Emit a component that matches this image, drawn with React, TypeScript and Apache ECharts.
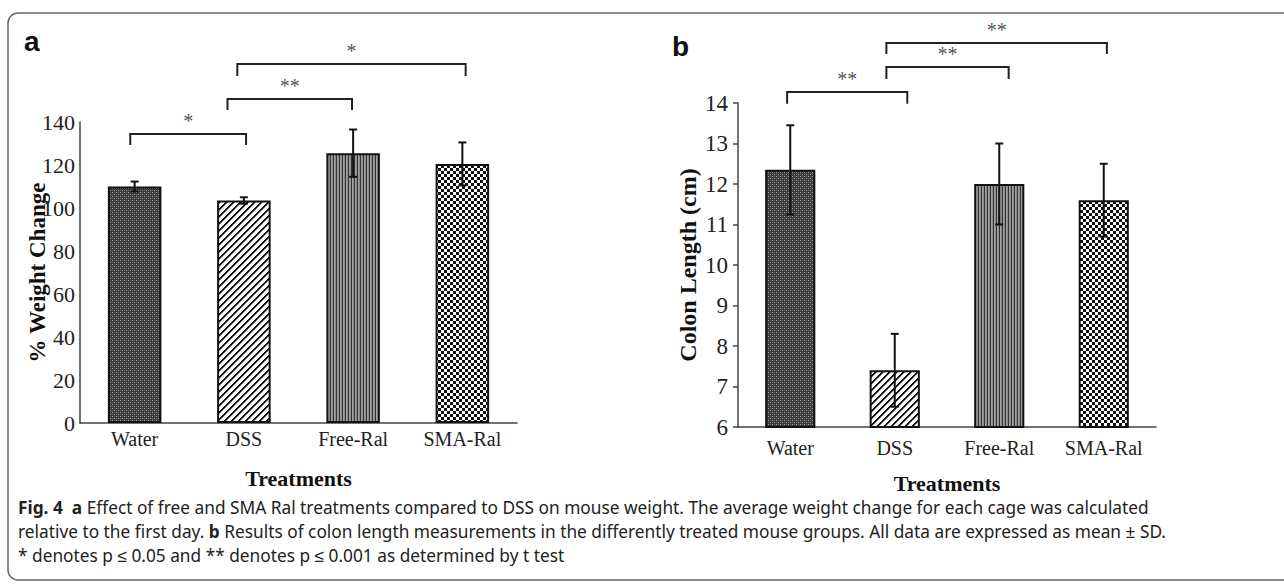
import React, { useEffect, useRef } from "react";
import * as echarts from "echarts";

const categories = ["Water", "DSS", "Free-Ral", "SMA-Ral"];
const weightMean = [110, 103.5, 125.5, 120.5];
const weightSD = [2.3, 1.5, 11, 10];
const colonMean = [12.35, 7.4, 12.0, 11.6];
const colonSD = [1.1, 0.9, 1.0, 0.9];

// brackets: [fromIdx, toIdx, fromShift, toShift, topValue, legValue]
const weightBrackets = [
  [0, 1, -0.04, 0.02, 134.4, 129.3],
  [1, 2, -0.15, -0.01, 150.7, 145.6],
  [1, 3, -0.06, 0.03, 167, 161.4],
];
const weightBracketLabels = ["*", "**", "*"];
const colonBrackets = [
  [0, 1, -0.03, 0.12, 14.27, 13.98],
  [1, 2, -0.08, 0.09, 14.89, 14.59],
  [1, 3, -0.08, 0.03, 15.48, 15.21],
];
const colonBracketLabels = ["**", "**", "**"];

const captionLines = [
  "{b|Fig. 4}  {b|a} Effect of free and SMA Ral treatments compared to DSS on mouse weight. The average weight change for each cage was calculated",
  "relative to the first day. {b|b} Results of colon length measurements in the differently treated mouse groups. All data are expressed as mean ± SD.",
  "* denotes p ≤ 0.05 and ** denotes p ≤ 0.001 as determined by t test",
];

function makePattern(kind: string): HTMLCanvasElement {
  const c = document.createElement("canvas");
  const ctx = c.getContext("2d")!;
  const px = (x: number, y: number, col: string) => {
    ctx.fillStyle = col;
    ctx.fillRect(x, y, 1, 1);
  };
  if (kind === "water") {
    c.width = 4; c.height = 4;
    ctx.fillStyle = "#3a3a3a"; ctx.fillRect(0, 0, 4, 4);
    px(0, 0, "#a0a0a0"); px(2, 2, "#a0a0a0");
    px(2, 0, "#666666"); px(0, 2, "#666666");
  } else if (kind === "dss") {
    c.width = 7; c.height = 7;
    ctx.fillStyle = "#ffffff"; ctx.fillRect(0, 0, 7, 7);
    for (let x = 0; x < 7; x++)
      for (let y = 0; y < 7; y++) {
        const m = (x + y) % 7;
        if (m === 0 || m === 1) px(x, y, "#111111");
        else if (m === 2) px(x, y, "#888888");
      }
  } else if (kind === "free") {
    c.width = 3; c.height = 2;
    ctx.fillStyle = "#a0a0a0"; ctx.fillRect(0, 0, 3, 2);
    ctx.fillStyle = "#333333"; ctx.fillRect(0, 0, 1, 2);
    ctx.fillStyle = "#8a8a8a"; ctx.fillRect(2, 0, 1, 2);
  } else {
    c.width = 6; c.height = 6;
    ctx.fillStyle = "#ffffff"; ctx.fillRect(0, 0, 6, 6);
    ctx.fillStyle = "#111111";
    ctx.fillRect(0, 0, 3, 3);
    ctx.fillRect(3, 3, 3, 3);
  }
  return c;
}

function errorRender(params: any, api: any) {
  const idx = api.value(0);
  const lo = api.coord([idx, api.value(1)]);
  const hi = api.coord([idx, api.value(2)]);
  const half = 4;
  const st = { stroke: "#111", lineWidth: 2 };
  return {
    type: "group",
    children: [
      { type: "line", shape: { x1: hi[0], y1: hi[1], x2: lo[0], y2: lo[1] }, style: st },
      { type: "line", shape: { x1: hi[0] - half, y1: hi[1], x2: hi[0] + half, y2: hi[1] }, style: st },
      { type: "line", shape: { x1: lo[0] - half, y1: lo[1], x2: lo[0] + half, y2: lo[1] }, style: st },
    ],
  };
}

function makeBracketRender(labels: string[]) {
  return (params: any, api: any) => {
    const band = api.size([1, 0])[0];
    const a = api.coord([api.value(0), api.value(4)]);
    const b = api.coord([api.value(1), api.value(4)]);
    const leg = api.coord([api.value(0), api.value(5)]);
    const x1 = a[0] + api.value(2) * band;
    const x2 = b[0] + api.value(3) * band;
    const yTop = a[1];
    const yLeg = leg[1];
    const st = { stroke: "#222", lineWidth: 2, fill: "none" };
    return {
      type: "group",
      children: [
        { type: "polyline", shape: { points: [[x1, yLeg], [x1, yTop], [x2, yTop], [x2, yLeg]] }, style: st },
        {
          type: "text",
          x: (x1 + x2) / 2,
          y: yTop - 13,
          style: {
            text: labels[params.dataIndex],
            fill: "#555",
            font: "20px 'Liberation Serif', serif",
            align: "center",
            verticalAlign: "middle",
          },
        },
      ],
    };
  };
}

export default function App() {
  const ref = useRef<HTMLDivElement>(null);
  useEffect(() => {
    if (!ref.current) return;
    const chart = echarts.init(ref.current, undefined, { renderer: "svg" });
    const pats = ["water", "dss", "free", "sma"].map((k) => makePattern(k));
    const barData = (vals: number[]) =>
      vals.map((v, i) => ({
        value: v,
        itemStyle: {
          color: { image: pats[i], repeat: "repeat" } as any,
          borderColor: "#111",
          borderWidth: 2,
        },
      }));
    const serif = "'Liberation Serif', 'Times New Roman', serif";
    const xAxisCommon = (margin: number, gap: number, grid: number) => ({
      type: "category",
      gridIndex: grid,
      data: categories,
      axisLine: { show: true, lineStyle: { color: "#444", width: 1.5 } },
      axisTick: { show: false },
      axisLabel: { fontSize: 20, fontFamily: serif, color: "#222", margin, interval: 0, hideOverlap: false },
      name: "Treatments",
      nameLocation: "middle",
      nameGap: gap,
      nameMoveOverlap: false,
      nameTextStyle: { fontSize: 22, fontWeight: "bold", fontFamily: serif, color: "#111" },
    });
    const option: any = {
      animation: false,
      grid: [
        { left: 80, top: 122, width: 437, height: 301 },
        { left: 738, top: 103, width: 418, height: 324 },
      ],
      xAxis: [xAxisCommon(6, 44, 0), xAxisCommon(11, 45, 1)],
      yAxis: [
        {
          type: "value",
          gridIndex: 0,
          min: 0,
          max: 140,
          interval: 20,
          axisLine: { show: true, lineStyle: { color: "#444", width: 1.5 } },
          axisTick: { show: false },
          splitLine: { show: false },
          axisLabel: { fontSize: 22, fontFamily: serif, color: "#222", margin: 5 },
          name: "% Weight Change",
          nameLocation: "middle",
          nameGap: 31,
          nameMoveOverlap: false,
          nameTextStyle: { fontSize: 23, fontWeight: "bold", fontFamily: serif, color: "#111" },
        },
        {
          type: "value",
          gridIndex: 1,
          min: 6,
          max: 14,
          interval: 1,
          axisLine: { show: true, lineStyle: { color: "#444", width: 1.5 } },
          axisTick: { show: true, length: 5, lineStyle: { color: "#444", width: 1.5 } },
          splitLine: { show: false },
          axisLabel: { fontSize: 23, fontFamily: serif, color: "#222", margin: 10 },
          name: "Colon Length (cm)",
          nameLocation: "middle",
          nameGap: 38,
          nameMoveOverlap: false,
          nameTextStyle: { fontSize: 24, fontWeight: "bold", fontFamily: serif, color: "#111" },
        },
      ],
      series: [
        { type: "bar", xAxisIndex: 0, yAxisIndex: 0, barWidth: "49%", data: barData(weightMean) },
        { type: "bar", xAxisIndex: 1, yAxisIndex: 1, barWidth: "48%", data: barData(colonMean) },
        {
          type: "custom",
          xAxisIndex: 0,
          yAxisIndex: 0,
          renderItem: errorRender,
          data: weightMean.map((m, i) => [i, m - weightSD[i], m + weightSD[i]]),
          z: 5,
        },
        {
          type: "custom",
          xAxisIndex: 1,
          yAxisIndex: 1,
          renderItem: errorRender,
          data: colonMean.map((m, i) => [i, m - colonSD[i], m + colonSD[i]]),
          z: 5,
        },
        {
          type: "custom",
          xAxisIndex: 0,
          yAxisIndex: 0,
          renderItem: makeBracketRender(weightBracketLabels),
          data: weightBrackets,
          clip: false,
          z: 5,
        },
        {
          type: "custom",
          xAxisIndex: 1,
          yAxisIndex: 1,
          renderItem: makeBracketRender(colonBracketLabels),
          data: colonBrackets,
          clip: false,
          z: 5,
        },
      ],
      graphic: [
        {
          type: "rect",
          shape: { x: 8, y: 13, width: 1290, height: 567, r: 10 },
          style: { fill: "none", stroke: "#666", lineWidth: 1.5 },
          silent: true,
        },
        {
          type: "text",
          x: 24,
          y: 55,
          style: { text: "a", font: "bold 28px 'Liberation Sans', Arial, sans-serif", fill: "#111", verticalAlign: "bottom" },
        },
        {
          type: "text",
          x: 672,
          y: 60,
          style: { text: "b", font: "bold 28px 'Liberation Sans', Arial, sans-serif", fill: "#111", verticalAlign: "bottom" },
        },
        ...captionLines.map((t, i) => ({
          type: "text",
          x: 18,
          y: 507 + i * 24,
          style: {
            text: t,
            fill: "#222",
            font: "17.3px 'Noto Sans', sans-serif",
            verticalAlign: "middle",
            rich: {
              b: { fontWeight: "bold", fontSize: 17.3, fontFamily: "'Noto Sans', sans-serif", fill: "#222" },
            },
          },
        })),
      ],
    };
    chart.setOption(option);
    return () => chart.dispose();
  }, []);
  return (
    <div
      ref={ref}
      style={{ position: "fixed", left: 0, top: 0, width: 1284, height: 584, background: "#fff" }}
    />
  );
}
